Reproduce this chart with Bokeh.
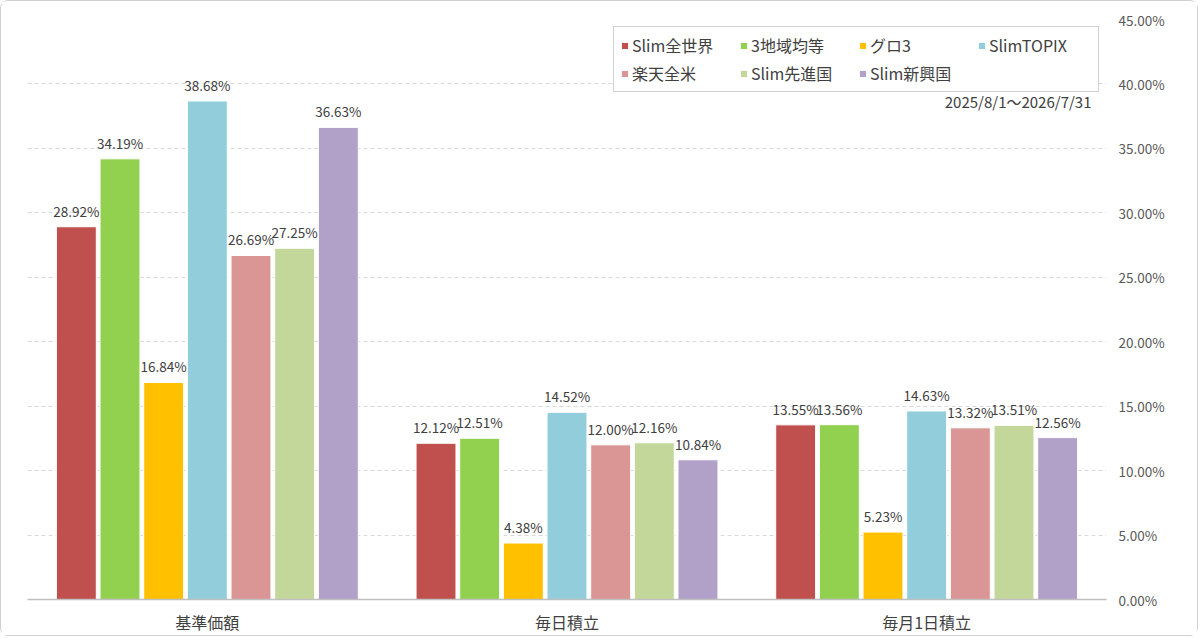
from bokeh.plotting import figure
from bokeh.models import (ColumnDataSource, LabelSet, Label, Legend, LegendItem,
                          FixedTicker, PrintfTickFormatter, Range1d)
from bokeh.transform import dodge
from bokeh.core.properties import value
from bokeh.embed import file_html
from bokeh.resources import INLINE

categories = ["基準価額", "毎日積立", "毎月1日積立"]
series_names = ["Slim全世界", "3地域均等", "グロ3", "SlimTOPIX", "楽天全米", "Slim先進国", "Slim新興国"]
slim_zensekai = [28.92, 12.12, 13.55]
chiiki3 = [34.19, 12.51, 13.56]
guro3 = [16.84, 4.38, 5.23]
slim_topix = [38.68, 14.52, 14.63]
rakuten_zenbei = [26.69, 12.00, 13.32]
slim_senshin = [27.25, 12.16, 13.51]
slim_shinko = [36.63, 10.84, 12.56]
series_values = [slim_zensekai, chiiki3, guro3, slim_topix, rakuten_zenbei, slim_senshin, slim_shinko]
colors = ["#C0504D", "#92D050", "#FFC000", "#92CDDC", "#DA9694", "#C4D79B", "#B1A0C7"]
y_ticks = [0, 5, 10, 15, 20, 25, 30, 35, 40, 45]
period_text = "2025/8/1～2026/7/31"

FONT = "Noto Sans CJK JP"
NUM_FONT = "Noto Sans CJK JP"

data = {"cat": categories}
for i, vals in enumerate(series_values):
    data[f"s{i}"] = vals
    data[f"l{i}"] = [f"{v:.2f}%" for v in vals]
source = ColumnDataSource(data)

p = figure(x_range=categories, y_range=Range1d(0, 45), width=1198, height=636,
           output_backend="svg", toolbar_location=None, y_axis_location="right",
           min_border_left=26, min_border_right=93, min_border_top=18, min_border_bottom=38,
           styles={"border": "1px solid #d0d0d0", "border-radius": "8px"})
p.outline_line_color = None

slot = 0.1214
bw = 0.111
renderers = []
for i, name in enumerate(series_names):
    off = (i - 3) * slot
    r = p.vbar(x=dodge("cat", off, range=p.x_range), top=f"s{i}", width=bw, source=source,
               fill_color=colors[i], line_color="white", line_width=1)
    renderers.append(r)
    lbl = LabelSet(x=dodge("cat", off, range=p.x_range), y=f"s{i}", text=f"l{i}", source=source,
                   text_align="center", text_baseline="alphabetic", y_offset=10,
                   text_font=value(NUM_FONT), text_font_size="13.5px", text_color="#404040")
    p.add_layout(lbl)

# legend fills column-major; order so that rows read left-to-right
order = [0, 4, 1, 5, 2, 6, 3]
items = [LegendItem(label=series_names[k], renderers=[renderers[k]]) for k in order]
legend = Legend(items=items, ncols=4, location="top_right",
                label_text_font=FONT, label_text_font_size="16px", label_text_color="#404040",
                glyph_width=9, glyph_height=9, label_standoff=3, spacing=4,
                label_height=19, label_width=103, padding=6, margin=7,
                border_line_color="#a6a6a6", border_line_width=1,
                background_fill_color="white", background_fill_alpha=1)
p.add_layout(legend)

p.add_layout(Label(x=3, y=38.64, x_offset=-15, text=period_text,
                   text_align="right", text_baseline="middle",
                   text_font=FONT, text_font_size="15px", text_color="#404040"))

p.xgrid.grid_line_color = None
p.ygrid.ticker = FixedTicker(ticks=y_ticks)
p.ygrid.grid_line_color = "#d9d9d9"
p.ygrid.grid_line_dash = "4 3"

p.yaxis.ticker = FixedTicker(ticks=y_ticks)
p.yaxis.formatter = PrintfTickFormatter(format="%.2f%%")
p.yaxis.axis_line_color = None
p.yaxis.major_tick_line_color = None
p.yaxis.major_tick_out = 0
p.yaxis.minor_tick_line_color = None
p.yaxis.major_label_standoff = 12
p.yaxis.major_label_text_font = NUM_FONT
p.yaxis.major_label_text_font_size = "13.5px"
p.yaxis.major_label_text_color = "#595959"

p.xaxis.axis_line_color = "#bfbfbf"
p.xaxis.axis_line_width = 1.5
p.xaxis.major_tick_line_color = None
p.xaxis.major_tick_out = 0
p.xaxis.minor_tick_line_color = None
p.xaxis.major_label_standoff = 10
p.xaxis.major_label_text_font = FONT
p.xaxis.major_label_text_font_size = "16px"
p.xaxis.major_label_text_color = "#404040"

p.x_range.range_padding = 0

open("out.html", "w").write(file_html(p, INLINE))
